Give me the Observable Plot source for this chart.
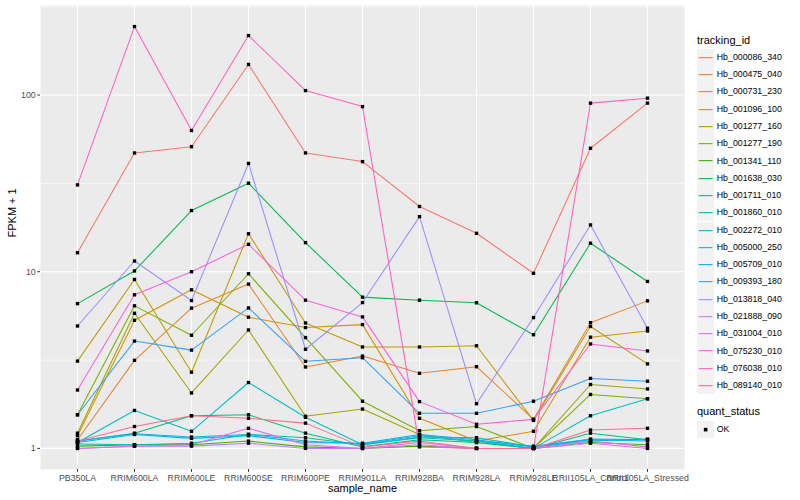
<!DOCTYPE html>
<html>
<head>
<meta charset="utf-8">
<script src="https://cdn.jsdelivr.net/npm/d3@7"></script>
<script src="https://cdn.jsdelivr.net/npm/@observablehq/plot@0.6"></script>
<style>
  html, body { margin: 0; padding: 0; background: white; }
  #wrap { position: relative; width: 800px; height: 500px; font-family: "Liberation Sans", Arial, sans-serif; }
  #chart { position: absolute; left: 0; top: 0; }
  .lg-title { position: absolute; font-size: 11px; color: #000; white-space: nowrap; }
  .lg-key { position: absolute; width: 17px; height: 17px; background: #F2F2F2; }
  .lg-label { position: absolute; font-size: 8.8px; color: #000; white-space: nowrap; }
</style>
</head>
<body>
<div id="wrap"><div id="chart"></div></div>
<script>
const samples = ["PB350LA","RRIM600LA","RRIM600LE","RRIM600SE","RRIM600PE","RRIM901LA","RRIM928BA","RRIM928LA","RRIM928LE","RRII105LA_Control","RRII105LA_Stressed"];

const trackingIds = ["Hb_000086_340","Hb_000475_040","Hb_000731_230","Hb_001096_100","Hb_001277_160","Hb_001277_190","Hb_001341_110","Hb_001638_030","Hb_001711_010","Hb_001860_010","Hb_002272_010","Hb_005000_250","Hb_005709_010","Hb_009393_180","Hb_013818_040","Hb_021888_090","Hb_031004_010","Hb_075230_010","Hb_076038_010","Hb_089140_010"];

const idColors = ["#F8766D","#EA8331","#D89000","#C09B00","#A3A500","#7CAE00","#39B600","#00BB4E","#00BF7D","#00C1A3","#00BFC4","#00BAE0","#00B0F6","#35A2FF","#9590FF","#C77CFF","#E76BF3","#FA62DB","#FF62BC","#FF6C91"];

// FPKM + 1 per sample (same order as samples)
const Hb_000086_340 = [12.8, 47, 51, 149, 47, 42, 23.4, 16.5, 9.8, 50, 90];
const Hb_000475_040 = [1.12, 3.15, 6.22, 8.51, 2.89, 3.33, 2.66, 2.9, 1.46, 5.15, 6.84];
const Hb_000731_230 = [1.18, 5.31, 7.9, 5.53, 4.83, 5.02, 1.48, 1.1, 1.25, 4.26, 4.62];
const Hb_001096_100 = [3.12, 9.04, 2.7, 16.4, 5.13, 3.75, 3.75, 3.81, 1.44, 4.9, 3.01];
const Hb_001277_160 = [1.22, 5.82, 2.06, 4.68, 1.52, 1.67, 1.2, 1.08, 1.0, 2.3, 2.17];
const Hb_001277_190 = [1.55, 6.41, 4.37, 9.74, 4.24, 1.85, 1.26, 1.33, 1.0, 2.02, 1.91];
const Hb_001341_110 = [1.03, 1.05, 1.05, 1.1, 1.02, 1.0, 1.03, 1.0, 1.0, 1.08, 1.05];
const Hb_001638_030 = [6.6, 10.1, 22.2, 31.7, 14.6, 7.18, 6.9, 6.67, 4.4, 14.5, 8.81];
const Hb_001711_010 = [1.1, 1.22, 1.53, 1.55, 1.22, 1.02, 1.12, 1.08, 1.0, 1.22, 1.12];
const Hb_001860_010 = [1.06, 1.05, 1.07, 1.2, 1.15, 1.05, 1.16, 1.15, 1.02, 1.1, 1.13];
const Hb_002272_010 = [1.08, 1.64, 1.25, 2.36, 1.5, 1.05, 1.15, 1.1, 1.0, 1.53, 1.91];
const Hb_005000_250 = [1.1, 1.21, 1.16, 1.2, 1.1, 1.06, 1.18, 1.1, 1.03, 1.12, 1.1];
const Hb_005709_010 = [1.08, 1.2, 1.14, 1.18, 1.08, 1.07, 1.2, 1.12, 1.02, 1.13, 1.12];
const Hb_009393_180 = [1.55, 4.05, 3.6, 6.24, 3.11, 3.26, 1.58, 1.58, 1.85, 2.49, 2.4];
const Hb_013818_040 = [4.93, 11.5, 6.87, 41, 3.64, 6.69, 20.5, 1.79, 5.5, 18.4, 4.79];
const Hb_021888_090 = [1.0, 1.03, 1.03, 1.07, 1.0, 1.0, 1.05, 1.0, 1.0, 1.07, 1.0];
const Hb_031004_010 = [1.0, 1.03, 1.05, 1.3, 1.05, 1.0, 1.08, 1.0, 1.0, 1.1, 1.02];
const Hb_075230_010 = [2.14, 7.4, 10, 14.3, 6.9, 5.55, 1.84, 1.37, 1.46, 3.9, 3.56];
const Hb_076038_010 = [31, 244, 63, 217, 106, 86, 1.02, 1.0, 1.0, 90, 96];
const Hb_089140_010 = [1.1, 1.33, 1.53, 1.48, 1.39, 1.02, 1.1, 1.0, 1.0, 1.27, 1.3];

const seriesValues = [Hb_000086_340, Hb_000475_040, Hb_000731_230, Hb_001096_100, Hb_001277_160, Hb_001277_190, Hb_001341_110, Hb_001638_030, Hb_001711_010, Hb_001860_010, Hb_002272_010, Hb_005000_250, Hb_005709_010, Hb_009393_180, Hb_013818_040, Hb_021888_090, Hb_031004_010, Hb_075230_010, Hb_076038_010, Hb_089140_010];

const yTicks = [1, 10, 100];
const yMinor = [Math.pow(10, 0.5), Math.pow(10, 1.5), Math.pow(10, 2.5)];
const quantStatus = ["OK"];

// long table
const data = [];
trackingIds.forEach((id, i) => {
  samples.forEach((s, j) => data.push({id, sample: s, value: seriesValues[i][j], status: "OK"}));
});

// ggplot-like 5% expansion in log space
const [lmin, lmax] = d3.extent(data, d => Math.log10(d.value));
const pad = (lmax - lmin) * 0.05;
const yDomain = [Math.pow(10, lmin - pad), Math.pow(10, lmax + pad)];

const plot = Plot.plot({
  width: 690,
  height: 500,
  marginLeft: 40,
  marginRight: 6,
  marginTop: 5,
  marginBottom: 31,
  style: {background: "white", fontFamily: "'Liberation Sans', Arial, sans-serif", fontSize: "8.8px", overflow: "visible"},
  x: {type: "point", domain: samples, padding: 0.6},
  y: {type: "log", domain: yDomain},
  color: {domain: trackingIds, range: idColors},
  marks: [
    Plot.frame({fill: "#EBEBEB", stroke: null}),
    Plot.ruleY(yMinor.filter(v => v >= yDomain[0] && v <= yDomain[1]), {y: d => d, stroke: "white", strokeWidth: 0.55}),
    Plot.ruleY(yTicks, {y: d => d, stroke: "white", strokeWidth: 1.1}),
    Plot.ruleX(samples, {x: d => d, stroke: "white", strokeWidth: 1.1}),
    Plot.line(data, {x: "sample", y: "value", z: "id", stroke: "id", strokeWidth: 1.05}),
    Plot.dot(data, {x: "sample", y: "value", symbol: "square", r: 1.9, fill: "black", stroke: null}),
    Plot.axisX({tickSize: 2.75, tickPadding: 2, stroke: "#333333", color: "#4D4D4D", label: null, fontSize: 8.8}),
    Plot.axisY({ticks: yTicks, tickFormat: d => String(d), tickSize: 2.75, tickPadding: 2, stroke: "#333333", color: "#4D4D4D", label: null, fontSize: 8.8}),
    Plot.text(["sample_name"], {frameAnchor: "bottom", dy: 22, fontSize: 11, fill: "black", text: d => d}),
    Plot.text(["FPKM + 1"], {frameAnchor: "left", dx: -28, rotate: -90, fontSize: 11, fill: "black", text: d => d})
  ]
});
document.getElementById("chart").appendChild(plot);

// legends (ggplot-style, right side)
const wrap = document.getElementById("wrap");
function add(cls, css, html) {
  const el = document.createElement("div");
  el.className = cls;
  Object.assign(el.style, css);
  if (html != null) el.innerHTML = html;
  wrap.appendChild(el);
  return el;
}
const lgLeft = 697, keyH = 17.28, firstKeyTop = 48.7;
add("lg-title", {left: lgLeft + "px", top: "34px"}, "tracking_id");
trackingIds.forEach((id, i) => {
  const top = firstKeyTop + i * keyH;
  const key = add("lg-key", {left: lgLeft + "px", top: top + "px", height: keyH + "px", width: keyH + "px"});
  key.innerHTML = `<svg width="${keyH}" height="${keyH}" style="display:block"><line x1="1.7" x2="${keyH - 1.7}" y1="${keyH / 2}" y2="${keyH / 2}" stroke="${idColors[i]}" stroke-width="1.1"/></svg>`;
  add("lg-label", {left: (lgLeft + keyH + 2.5) + "px", top: (top + keyH / 2 - 5.5) + "px"}, id);
});
add("lg-title", {left: lgLeft + "px", top: "405px"}, "quant_status");
quantStatus.forEach((q, i) => {
  const top = 420.5 + i * keyH;
  const key = add("lg-key", {left: lgLeft + "px", top: top + "px", height: keyH + "px", width: keyH + "px"});
  key.innerHTML = `<svg width="${keyH}" height="${keyH}" style="display:block"><rect x="${keyH / 2 - 1.8}" y="${keyH / 2 - 1.8}" width="3.6" height="3.6" fill="black"/></svg>`;
  add("lg-label", {left: (lgLeft + keyH + 2.5) + "px", top: (top + keyH / 2 - 5.5) + "px"}, q);
});
</script>
</body>
</html>
